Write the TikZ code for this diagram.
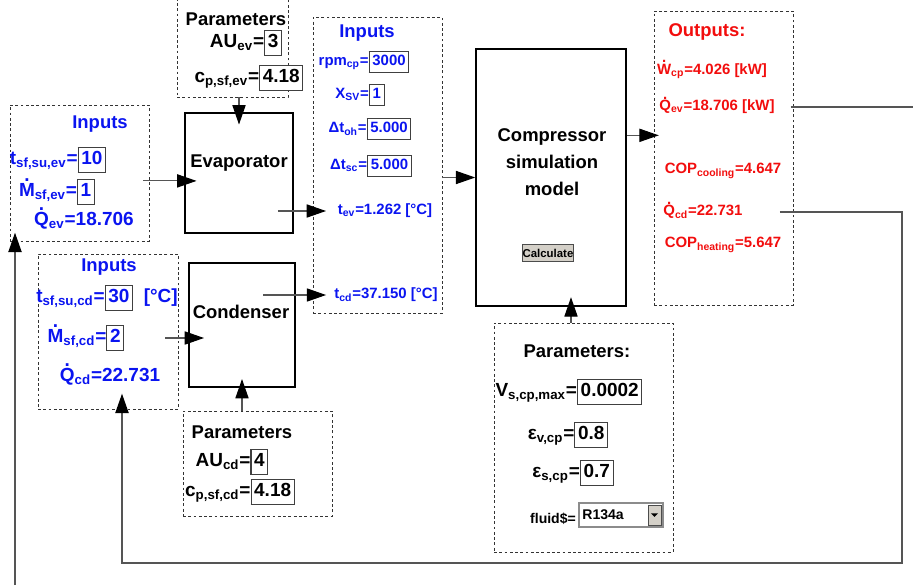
\documentclass[tikz,border=0pt]{standalone}
\usepackage{fontspec}
\setmainfont{Liberation Sans}
\usetikzlibrary{arrows.meta,fit,positioning}
\definecolor{csInk}{HTML}{000000}
\definecolor{csBlue}{HTML}{0A14F0}
\definecolor{csRed}{HTML}{F20D0D}
\definecolor{csLine}{HTML}{555555}
\definecolor{csFrame}{HTML}{404040}
\definecolor{csButton}{HTML}{D4D0C8}
\newcommand{\csval}[1]{{\setlength{\fboxsep}{1.5pt}\setlength{\fboxrule}{.6pt}\fcolorbox{csFrame}{white}{\rule[-.25em]{0pt}{.95em}#1}}}
\newcommand{\csdot}[1]{\ooalign{#1\cr\hidewidth\raisebox{.77em}{.}\hidewidth\cr}}
\newcommand{\lo}[1]{\textsubscript{#1}}
\tikzset{
  cs block/.style={draw=csInk, line width=.9pt, inner sep=0pt},
  cs panel/.style={draw=csInk!80, line width=.55pt, dash pattern=on 1.6pt off 1.4pt, inner sep=0pt},
  cs arrow/.style={
    draw=csLine,
    line width=.6pt,
    -{Triangle[length=11pt,width=7.5pt,color=black]}
  },
  cs feedback/.style={draw=csLine, line width=.8pt},
  cs title/.style={font=\fontsize{10.5}{12}\selectfont\bfseries},
  cs name/.style={font=\fontsize{10.5}{15.3}\selectfont\bfseries, text=csInk},
  cs in/.style={font=\fontsize{10.8}{12}\selectfont\bfseries, text=csBlue, inner sep=0pt},
  cs in small/.style={font=\fontsize{8.5}{10}\selectfont\bfseries, text=csBlue, inner sep=0pt},
  cs par/.style={font=\fontsize{10.8}{12}\selectfont\bfseries, text=csInk, inner sep=0pt},
  cs par small/.style={font=\fontsize{8}{10}\selectfont\bfseries, text=csInk, inner sep=0pt},
  cs out/.style={font=\fontsize{8.5}{10}\selectfont\bfseries, text=csRed, inner sep=0pt},
  cs button/.style={fill=csButton, draw=csInk!70, line width=.5pt, inner sep=0pt},
  cs combo/.style={fill=white, draw=csInk!45, line width=.6pt, inner sep=0pt}
}

\begin{document}
\begin{tikzpicture}[x=.02cm, y=-.02cm]
  \useasboundingbox (0,0) rectangle (913,585);
  \clip (0,0) rectangle (913,585);

  % dashed panels
  \node[cs panel, fit={(10,105) (149,241)}] (evin) {};
  \node[cs panel, fit={(177,-5) (288,97)}] (evpar) {};
  \node[cs panel, fit={(313,17) (442,313)}] (cpin) {};
  \node[cs panel, fit={(38,254) (178,409)}] (cdin) {};
  \node[cs panel, fit={(183,411) (332,516)}] (cdpar) {};
  \node[cs panel, fit={(494,323) (673,552)}] (cppar) {};
  \node[cs panel, fit={(654,11) (793,305)}] (out) {};

  % model blocks
  \node[cs block, fit={(185,113) (293,233)}] (evap) {};
  \node[cs block, fit={(189,263) (295,387)}] (cond) {};
  \node[cs block, fit={(476,49) (626,306)}] (comp) {};
  \node[cs name] (evlabel) at (239,163) {Evaporator};
  \node[cs name] (cdlabel) at (241,312) {Condenser};
  \node[cs name, align=center] (cplabel) at (552,162) {Compressor\\simulation\\model};
  \node[cs button, minimum width=29pt, minimum height=9.6pt,
        font=\fontsize{6.5}{7}\selectfont\bfseries] (calc) at (548,253) {Calculate};

  % evaporator inputs and parameters
  \node[cs in, cs title] (evtitle) at (100,124) {Inputs};
  \node[cs in] (evt) at (58,160) {t\lo{sf,su,ev}=\csval{10}};
  \node[cs in] (evm) at (57,192) {\csdot{M}\lo{sf,ev}=\csval{1}};
  \node[cs in] (evq) at (84,220) {\csdot{Q}\lo{ev}=18.706};
  \node[cs title] (evptitle) at (236,19) {Parameters};
  \node[cs par] (evau) at (246,43) {AU\lo{ev}=\csval{3}};
  \node[cs par] (evcp) at (249,78) {c\lo{p,sf,ev}=\csval{4.18}};

  % compressor inputs
  \node[cs in, cs title] (cptitle) at (367,33) {Inputs};
  \node[cs in small] (rpm) at (364,62) {rpm\lo{cp}=\csval{3000}};
  \node[cs in small] (xsv) at (360,95) {X\lo{SV}=\csval{1}};
  \node[cs in small] (toh) at (370,129) {Δt\lo{oh}=\csval{5.000}};
  \node[cs in small] (tsc) at (371,166) {Δt\lo{sc}=\csval{5.000}};
  \node[cs in small] (tev) at (385,211) {t\lo{ev}=1.262 [°C]};
  \node[cs in small] (tcd) at (386,295) {t\lo{cd}=37.150 [°C]};

  % condenser inputs and parameters
  \node[cs in, cs title] (cdtitle) at (109,267) {Inputs};
  \node[cs in] (cdt) at (107,298) {t\lo{sf,su,cd}=\csval{30}\ \ [°C]};
  \node[cs in] (cdm) at (86,338) {\csdot{M}\lo{sf,cd}=\csval{2}};
  \node[cs in] (cdq) at (110,376) {\csdot{Q}\lo{cd}=22.731};
  \node[cs title] (cdptitle) at (242,432) {Parameters};
  \node[cs par] (cdau) at (232,462) {AU\lo{cd}=\csval{4}};
  \node[cs par] (cdcp) at (240,492) {c\lo{p,sf,cd}=\csval{4.18}};

  % compressor parameters
  \node[cs title] (cpptitle) at (577,351) {Parameters:};
  \node[cs par] (vs) at (569,392) {V\lo{s,cp,max}=\csval{0.0002}};
  \node[cs par] (epsv) at (568,435) {ε\lo{v,cp}=\csval{0.8}};
  \node[cs par] (epss) at (573,473) {ε\lo{s,cp}=\csval{0.7}};
  \node[cs par small] (fluid) at (553,519) {fluid\$=};
  \node[cs combo, fit={(579,503) (663,527)}] (combo) {};
  \node[cs par small, anchor=west] (r134a) at (582,515) {R134a};
  \node[cs button, fit={(648,505) (661,525)}] (drop) {};
  \fill ([xshift=-2pt,yshift=1pt]drop.center) -- ++(4pt,0) -- ++(-2pt,-2pt) -- cycle;

  % outputs
  \node[cs out, cs title] (outtitle) at (707,32) {Outputs:};
  \node[cs out] (wcp) at (712,71) {\csdot{W}\lo{cp}=4.026 [kW]};
  \node[cs out] (oqev) at (717,107) {\csdot{Q}\lo{ev}=18.706 [kW]};
  \node[cs out] (copc) at (723,171) {COP\lo{cooling}=4.647};
  \node[cs out] (oqcd) at (703,212) {\csdot{Q}\lo{cd}=22.731};
  \node[cs out] (coph) at (723,245) {COP\lo{heating}=5.647};

  % connectors
  \coordinate (cpfeed) at (571,306);
  \coordinate (cpout) at ([yshift=24pt]comp.east);
  \coordinate (edge) at (913,0);
  \coordinate (loopR) at (902,563);
  \coordinate (loopL) at (122,563);
  \coordinate (loopE) at (15,585);

  \draw[cs arrow, shorten >=-7pt] (evpar.south -| evap.north) -- (evap.north);
  \draw[cs arrow, shorten <=-3.5pt, shorten >=-7pt] ([yshift=-4.5pt]evin.east) -- ([yshift=-4.5pt]evap.west);
  \draw[cs arrow, shorten <=-9pt, shorten >=6.5pt] (evap.east |- tev) -- (tev.west);
  \draw[cs arrow, shorten <=-18.5pt, shorten >=4.5pt] (cond.east |- tcd) -- (tcd.west);
  \draw[cs arrow, shorten <=-7.5pt, shorten >=-9pt] (cdin.east |- cdm) -- (cond.west |- cdm);
  \draw[cs arrow, shorten >=-5pt] (cdpar.north -| cond.south) -- (cond.south);
  \draw[cs arrow] (cpin.east |- comp.west) -- (comp.west);
  \draw[cs arrow, shorten >=-5pt] (cppar.north -| cpfeed) -- (cpfeed);
  \draw[cs arrow, shorten >=-3pt] (cpout) -- (cpout -| out.west);

  \draw[cs feedback] ([xshift=9pt]oqev.east) -- (oqev.east -| edge);
  \draw[cs feedback, -{Triangle[length=11pt,width=7.5pt,color=black]}, shorten >=-9pt]
    ([xshift=21pt]oqcd.east) -| (loopR) -- (loopL) -- (loopL |- cdin.south);
  \draw[cs feedback, -{Triangle[length=11pt,width=7.5pt,color=black]}, shorten >=-5pt]
    (loopE) -- (loopE |- evin.south);
\end{tikzpicture}
\end{document}
